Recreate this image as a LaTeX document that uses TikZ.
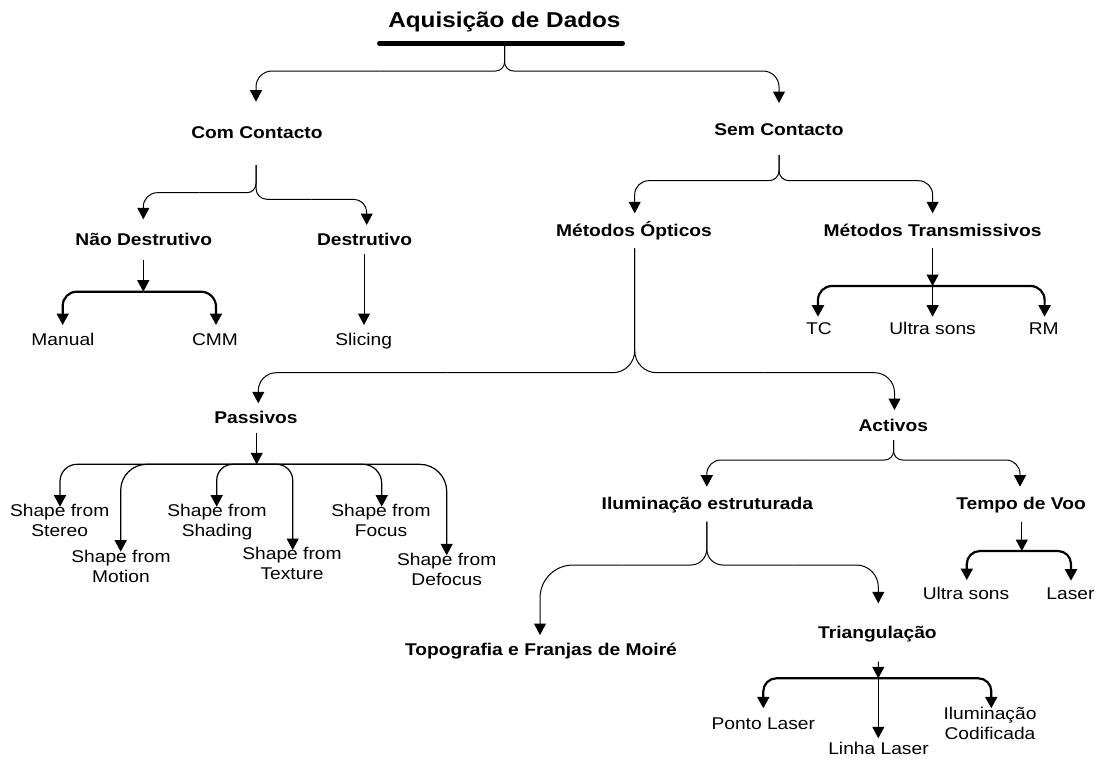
\documentclass[tikz,border=0pt]{standalone}
\usepackage{fontspec}
\setmainfont{Liberation Sans}[FakeStretch=1.13]
\usetikzlibrary{arrows.meta,calc}
\tikzset{
  hd/.style={font=\fontsize{17}{19.5}\selectfont\bfseries, inner sep=0pt, anchor=base},
  lf/.style={font=\fontsize{17}{19.8}\selectfont, inner sep=0pt, anchor=base},
  lftwo/.style={font=\fontsize{17}{19.8}\selectfont, inner sep=0pt, anchor=north, align=center},
  conn/.style={line width=1pt, draw=black},
  arr/.style={-{Triangle[length=11.5pt,width=12pt]}},
  bar/.style={line width=2.2pt},
  pb/.style={line width=1.2pt},
}
\newcommand\brch[6]{%
  \draw[conn,rounded corners=#5] #1 -- #2 -- ($#2!.5!#3$);
  \draw[conn,arr,rounded corners=#6] ($#2!.5!#3$) -- #3 -- #4;}
\begin{document}
\begin{tikzpicture}[x=1pt,y=-1pt]
\useasboundingbox (0,0) rectangle (1095,758);
% nodes
\node[hd,font=\fontsize{21.5}{24}\selectfont\bfseries] (title) at (504.4,27.3) {Aquisição de Dados};
\node[hd] (com) at (257,138.3) {Com Contacto};
\node[hd] (sem) at (779,135) {Sem Contacto};
\node[hd] (nd) at (143.8,245) {Não Destrutivo};
\node[hd] (des) at (364.5,245) {Destrutivo};
\node[lf] (man) at (63,345.7) {Manual};
\node[lf] (cmm) at (215,345.7) {CMM};
\node[lf] (sli) at (363.7,345.7) {Slicing};
\node[hd] (opt) at (634,236.7) {Métodos Ópticos};
\node[hd] (tra) at (932.6,236.7) {Métodos Transmissivos};
\node[lf] (tc) at (819,334) {TC};
\node[lf] (us1) at (932.6,334) {Ultra sons};
\node[lf] (rm) at (1043.7,334) {RM};
\node[hd] (pas) at (256,423.3) {Passivos};
\node[hd] (act) at (893.3,431.7) {Activos};
\node[lftwo] (sst) at (59.7,504.3) {Shape from\\Stereo};
\node[lftwo] (smo) at (121,550) {Shape from\\Motion};
\node[lftwo] (ssh) at (217,504.3) {Shape from\\Shading};
\node[lftwo] (ste) at (292,547.3) {Shape from\\Texture};
\node[lftwo] (sfo) at (381,504.3) {Shape from\\Focus};
\node[lftwo] (sde) at (446.7,553.3) {Shape from\\Defocus};
\node[hd] (ilu) at (707.4,509.3) {Iluminação estruturada};
\node[hd] (tem) at (1021,509.3) {Tempo de Voo};
\node[hd] (top) at (541,655) {Topografia e Franjas de Moiré};
\node[hd] (tri) at (877.4,638.3) {Triangulação};
\node[lf] (us2) at (966,599.3) {Ultra sons};
\node[lf] (las) at (1070.5,599.3) {Laser};
\node[lf] (pon) at (763.3,729) {Ponto Laser};
\node[lf] (lin) at (878.5,754.8) {Linha Laser};
\node[lftwo] (ilc) at (990,706.7) {Iluminação\\Codificada};
% title underline
\draw[line width=4.5pt, line cap=round] ($(title.base)+(-125.1,16)$) -- ($(title.base)+(118.3,16)$);
% title braces
\brch{($(title.base)+(0.2,16)$)}{(504.6,71)}{(256,71)}{($(com.base)+(-1,-36.6)$)}{9pt}{16pt}
\brch{($(title.base)+(0.2,16)$)}{(504.6,71)}{(779,71)}{($(sem.base)+(0,-32)$)}{9pt}{16pt}
% com contacto
\brch{($(com.base)+(-1,26.7)$)}{(256,192.7)}{(143.3,192.7)}{($(nd.base)+(-0.5,-25.7)$)}{9pt}{14pt}
\brch{($(com.base)+(-1,26.7)$)}{(256,199.3)}{(366.7,199.3)}{($(des.base)+(2.2,-20)$)}{11pt}{13pt}
% sem contacto
\brch{($(sem.base)+(0,20)$)}{(779,180.7)}{(634.7,180.7)}{($(opt.base)+(0.7,-23.4)$)}{10pt}{14pt}
\brch{($(sem.base)+(0,20)$)}{(779,180.7)}{(932.6,180.7)}{($(tra.base)+(0,-23.4)$)}{10pt}{14pt}
% nao destrutivo
\draw[conn,arr] ($(nd.base)+(-0.5,15)$) -- (143.3,291.7) coordinate (ndj);
\draw[conn,bar,arr,rounded corners=14pt] (ndj) -- (62.7,291.7) -- ($(man.base)+(-0.3,-20.7)$);
\draw[conn,bar,arr,rounded corners=15pt] (ndj) -- (216,291.7) -- ($(cmm.base)+(1,-20.7)$);
% destrutivo
\draw[conn,arr] ($(des.base)+(-0.5,9)$) -- ($(sli.base)+(0.3,-20.7)$);
% metodos opticos
\brch{($(opt.base)+(0.7,11.6)$)}{(634.7,372.7)}{(258.3,372.7)}{($(pas.base)+(2.3,-20)$)}{22pt}{18pt}
\brch{($(opt.base)+(0.7,11.6)$)}{(634.7,372.7)}{(894.5,372.7)}{($(act.base)+(1.2,-21.7)$)}{22pt}{20pt}
% transmissivos
\draw[conn,arr] ($(tra.base)+(0,11.6)$) -- (932.6,286) coordinate (trj);
\draw[conn,bar,arr,rounded corners=14pt] (trj) -- (818,286) -- ($(tc.base)+(-1,-17.3)$);
\draw[conn,bar,arr,rounded corners=14pt] (trj) -- (1044.6,286) -- ($(rm.base)+(0.9,-17.3)$);
\draw[conn,arr] (trj) -- ($(us1.base)+(0,-17.3)$);
% passivos
\draw[conn,arr] ($(pas.base)+(0.7,10)$) -- (256.7,464.3) coordinate (paj);
\draw[conn,pb,arr,rounded corners=17pt] (paj) -- (60,464.3) -- ($(sst.north)+(0.3,2.4)$);
\draw[conn,pb,arr,rounded corners=26pt] (paj) -- (120.7,464.3) -- ($(smo.north)+(-0.3,1.7)$);
\draw[conn,pb,arr,rounded corners=16pt] (paj) -- (216.7,464.3) -- ($(ssh.north)+(-0.3,2.4)$);
\draw[conn,pb,arr,rounded corners=16pt] (paj) -- (292.7,464.3) -- ($(ste.north)+(0.7,2.7)$);
\draw[conn,pb,arr,rounded corners=19pt] (paj) -- (381.7,464.3) -- ($(sfo.north)+(0.7,2.4)$);
\draw[conn,pb,arr,rounded corners=27pt] (paj) -- (446.7,464.3) -- ($(sde.north)+(0,2)$);
% activos
\brch{($(act.base)+(0.3,8.3)$)}{(893.6,460)}{(706.8,460)}{($(ilu.base)+(-0.6,-22.6)$)}{9pt}{14pt}
\brch{($(act.base)+(0.3,8.3)$)}{(893.6,460)}{(1020,460)}{($(tem.base)+(-1,-22.6)$)}{9pt}{14pt}
% iluminacao estruturada
\brch{($(ilu.base)+(-0.6,12.4)$)}{(706.8,565)}{(540,565)}{($(top.base)+(-1,-20)$)}{16pt}{33pt}
\brch{($(ilu.base)+(-0.6,12.4)$)}{(706.8,565)}{(878.3,565)}{($(tri.base)+(0.9,-35)$)}{16pt}{22pt}
% tempo de voo
\draw[conn,arr] ($(tem.base)+(0.8,12.4)$) -- (1021.8,551) coordinate (tej);
\draw[conn,bar,arr,rounded corners=13pt] (tej) -- (966.8,551) -- ($(us2.base)+(0.8,-19.3)$);
\draw[conn,bar,arr,rounded corners=13pt] (tej) -- (1071,551) -- ($(las.base)+(0.5,-18.6)$);
% triangulacao
\draw[conn,arr] ($(tri.base)+(0.9,23.4)$) -- (878.3,678.3) coordinate (trij);
\draw[conn,bar,arr,rounded corners=13pt] (trij) -- (763.3,678.3) -- ($(pon.base)+(0,-20.7)$);
\draw[conn,bar,arr,rounded corners=13pt] (trij) -- (991.3,678.3) -- ($(ilc.north)+(1.3,1.6)$);
\draw[conn,arr] (trij) -- ($(lin.base)+(-0.2,-16.5)$);
\end{tikzpicture}
\end{document}
